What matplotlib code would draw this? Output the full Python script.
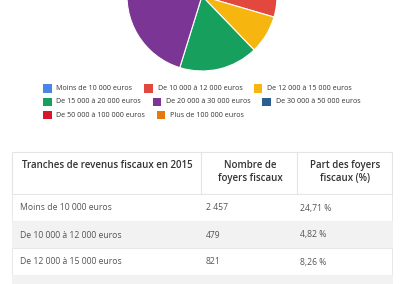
import matplotlib
matplotlib.use("Agg")
import matplotlib.pyplot as plt
from matplotlib.patches import Rectangle

# ---- data ----
categories = [
    "Moins de 10 000 euros",
    "De 10 000 à 12 000 euros",
    "De 12 000 à 15 000 euros",
    "De 15 000 à 20 000 euros",
    "De 20 000 à 30 000 euros",
    "De 30 000 à 50 000 euros",
    "De 50 000 à 100 000 euros",
    "Plus de 100 000 euros",
]
shares = [24.71, 4.82, 8.26, 17.0, 23.0, 15.5, 5.5, 1.21]
colors = ["#4a86e8", "#e2483d", "#f6b60f", "#17a05d",
          "#7b3594", "#2a5e8c", "#d4172b", "#e6780f"]

table_header = ["Tranches de revenus fiscaux en 2015",
                "Nombre de\nfoyers fiscaux",
                "Part des foyers\nfiscaux (%)"]
table_labels = categories[:3]
table_counts = ["2 457", "479", "821"]
table_pcts = ["24,71 %", "4,82 %", "8,26 %"]

FONT = ["Open Sans", "DejaVu Sans"]
W, H = 400, 284
fig = plt.figure(figsize=(W / 100, H / 100), dpi=100)
fig.patch.set_facecolor("white")

# ---- pie (center above the top edge) ----
cx, cy, r = 202, -4, 75
pax = fig.add_axes([(cx - r) / W, (H - cy - r) / H, 2 * r / W, 2 * r / H])
pax.pie(shares, colors=colors, startangle=90, counterclock=False,
        wedgeprops=dict(edgecolor="white", linewidth=0.8))
pax.set_aspect("equal")
pax.set_xlim(-1, 1)
pax.set_ylim(-1, 1)
pax.axis("off")

# ---- overlay in pixel coords ----
ax = fig.add_axes([0, 0, 1, 1], zorder=-1)
ax.set_xlim(0, W)
ax.set_ylim(H, 0)
ax.axis("off")

# legend (flow layout, left aligned)
fig.canvas.draw()
renderer = fig.canvas.get_renderer()
leg_fs = 5.1
x0, xmax = 43, 380
x, y = x0, 88.5
row_h = 13.3
sq = 8.5
gap = 11.5
for lab, col in zip(categories, colors):
    t = ax.text(0, 0, lab, fontsize=leg_fs, family=FONT, color="#333333",
                va="center", ha="left", fontweight="medium")
    bb = t.get_window_extent(renderer)
    tw = bb.width
    item_w = sq + 5 + tw
    if x + item_w > xmax and x > x0:
        x = x0
        y += row_h
    ax.add_patch(Rectangle((x, y - sq / 2), sq, sq, color=col, lw=0))
    t.set_position((x + sq + 5, y))
    x += item_w + gap

# table
col_x = [12, 201, 297, 392]
head_top, head_bot = 152, 194
row_hh = 27
border = "#e4e4e4"
ax.add_patch(Rectangle((col_x[0], head_top), col_x[3] - col_x[0],
                       head_bot - head_top, facecolor="white",
                       edgecolor=border, lw=0.8))
for cx_ in col_x[1:3]:
    ax.plot([cx_, cx_], [head_top, head_bot], color=border, lw=0.8)

hdr_fs = 7.0
ax.text(col_x[0] + 10, 165, table_header[0], fontsize=hdr_fs, family=FONT,
        color="#333333", va="center", ha="left", fontweight="semibold")
for i in (1, 2):
    ax.text((col_x[i] + col_x[i + 1]) / 2 + 1, 172, table_header[i],
            fontsize=hdr_fs, family=FONT, color="#333333", va="center",
            ha="center", fontweight="semibold", linespacing=1.35)

body_fs = 6.2
n_rows = len(table_labels) + 1  # one more band peeks in at the bottom
for i in range(n_rows):
    top = head_bot + i * row_hh
    bg = "white" if i % 2 == 0 else "#f2f2f2"
    ax.add_patch(Rectangle((col_x[0], top), col_x[3] - col_x[0], row_hh,
                           facecolor=bg, edgecolor=border if i % 2 == 0 else bg,
                           lw=0.6))
for i, (lab, cnt, pct) in enumerate(zip(table_labels, table_counts, table_pcts)):
    top = head_bot + i * row_hh
    yc = top + row_hh / 2 + 0.5
    ax.text(col_x[0] + 8, yc, lab, fontsize=body_fs, family=FONT,
            color="#555555", va="center", ha="left")
    ax.text(col_x[1] + 5, yc, cnt, fontsize=body_fs, family=FONT,
            color="#555555", va="center", ha="left")
    ax.text(col_x[2] + 3, yc, pct, fontsize=body_fs, family=FONT,
            color="#555555", va="center", ha="left")

fig.savefig("out.png", dpi=100, facecolor="white")
